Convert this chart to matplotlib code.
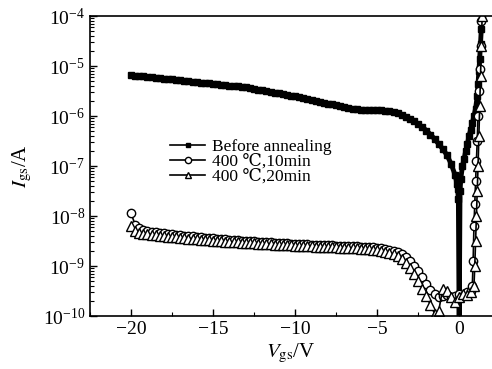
import numpy as np
import matplotlib
matplotlib.use('Agg')
import matplotlib.pyplot as plt
from matplotlib.ticker import LogLocator, MultipleLocator, NullFormatter

plt.rcParams['font.family'] = ['Liberation Serif', 'DejaVu Serif']
plt.rcParams['mathtext.fontset'] = 'stix'

# gate sweep voltage (V), uniform part of the sweep
v_sweep = np.arange(-20, 0, 0.25)

# before annealing, log10(Igs)
before_log = [-5.18, -5.19, -5.19, -5.20, -5.21, -5.22, -5.23, -5.24, -5.25, -5.26,
              -5.26, -5.27, -5.28, -5.29, -5.30, -5.31, -5.32, -5.33, -5.33, -5.34,
              -5.35, -5.36, -5.37, -5.38, -5.39, -5.40, -5.40, -5.41, -5.42, -5.44,
              -5.45, -5.47, -5.48, -5.50, -5.51, -5.53, -5.54, -5.56, -5.57, -5.59,
              -5.60, -5.62, -5.64, -5.66, -5.67, -5.69, -5.71, -5.73, -5.75, -5.76,
              -5.78, -5.80, -5.82, -5.83, -5.85, -5.86, -5.87, -5.87, -5.87, -5.88,
              -5.88, -5.88, -5.89, -5.90, -5.92, -5.94, -5.97, -6.01, -6.05, -6.10,
              -6.16, -6.22, -6.29, -6.37, -6.46, -6.56, -6.66, -6.78, -6.95, -7.18]
before_tail_v = [-0.15, -0.1, -0.05, 0.0, 0.05, 0.1, 0.2, 0.3, 0.4, 0.5, 0.6, 0.7,
                 0.8, 0.9, 1.0, 1.1, 1.15, 1.2, 1.25, 1.3, 1.35, 1.4]
before_tail_log = [-7.35, -7.45, -7.65, -10.3, -7.5, -7.25, -7.0, -6.85, -6.7, -6.55,
                   -6.4, -6.27, -6.14, -6.0, -5.85, -5.6, -5.35, -5.1, -4.85, -4.55,
                   -4.25, -4.0]

# 400 C, 10 min
a10_log = [-7.94, -8.18, -8.24, -8.27, -8.29, -8.31, -8.32, -8.33, -8.34, -8.35,
           -8.36, -8.37, -8.38, -8.39, -8.40, -8.40, -8.41, -8.42, -8.43, -8.43,
           -8.44, -8.45, -8.45, -8.46, -8.47, -8.47, -8.48, -8.49, -8.49, -8.50,
           -8.50, -8.51, -8.51, -8.52, -8.52, -8.53, -8.53, -8.54, -8.54, -8.55,
           -8.55, -8.56, -8.56, -8.56, -8.57, -8.57, -8.57, -8.58, -8.58, -8.58,
           -8.59, -8.59, -8.59, -8.60, -8.60, -8.60, -8.61, -8.61, -8.62, -8.62,
           -8.63, -8.64, -8.65, -8.67, -8.69, -8.72, -8.76, -8.82, -8.90, -8.99,
           -9.10, -9.22, -9.35, -9.47, -9.56, -9.62, -9.60, -9.58, -9.62, -9.60]
a10_tail_v = [0.0, 0.25, 0.5, 0.7, 0.8, 0.85, 0.9, 0.95, 1.0, 1.05, 1.1, 1.15, 1.2,
              1.25, 1.3, 1.35]
a10_tail_log = [-9.55, -9.60, -9.52, -9.50, -9.40, -8.90, -8.20, -7.75, -7.30, -6.90,
                -6.50, -6.00, -5.50, -5.05, -4.60, -4.10]

# 400 C, 20 min
a20_log = [-8.20, -8.30, -8.33, -8.35, -8.36, -8.37, -8.38, -8.39, -8.40, -8.41,
           -8.42, -8.42, -8.43, -8.44, -8.45, -8.45, -8.46, -8.47, -8.47, -8.48,
           -8.49, -8.49, -8.50, -8.51, -8.51, -8.52, -8.52, -8.53, -8.53, -8.54,
           -8.54, -8.55, -8.55, -8.56, -8.56, -8.57, -8.57, -8.58, -8.58, -8.58,
           -8.59, -8.59, -8.60, -8.60, -8.60, -8.61, -8.61, -8.61, -8.62, -8.62,
           -8.62, -8.63, -8.63, -8.63, -8.64, -8.64, -8.65, -8.65, -8.66, -8.67,
           -8.68, -8.69, -8.71, -8.73, -8.76, -8.80, -8.86, -8.94, -9.04, -9.16,
           -9.30, -9.45, -9.60, -9.78, -9.95, -9.90, -9.45, -9.50, -9.62, -9.72]
a20_tail_v = [0.0, 0.25, 0.5, 0.75, 0.9, 0.95, 1.0, 1.05, 1.1, 1.15, 1.2, 1.25, 1.3,
              1.35, 1.4]
a20_tail_log = [-9.62, -9.55, -9.58, -9.52, -9.40, -9.00, -8.50, -8.00, -7.50, -7.00,
                -6.40, -5.80, -5.20, -4.60, -4.00]

labels = ['Before annealing', '400 \u2103,10min', '400 \u2103,20min']

fig = plt.figure(figsize=(4.92, 3.69), dpi=100)
ax = fig.add_axes([0.183, 0.1436, 0.817, 0.813])

v_b = np.concatenate([v_sweep, before_tail_v])
i_b = 10.0 ** np.concatenate([before_log, before_tail_log])
v_10 = np.concatenate([v_sweep, a10_tail_v])
i_10 = 10.0 ** np.concatenate([a10_log, a10_tail_log])
v_20 = np.concatenate([v_sweep, a20_tail_v])
i_20 = 10.0 ** np.concatenate([a20_log, a20_tail_log])

ax.plot(v_b, i_b, '-s', color='black', lw=3.5, ms=4.5, mfc='black', label=labels[0])
ax.plot(v_10, i_10, '-o', color='black', lw=1.2, ms=6, mfc='white', mew=1.0, label=labels[1])
ax.plot(v_20, i_20, '-^', color='black', lw=1.2, ms=6.5, mfc='white', mew=1.0, label=labels[2])

ax.set_yscale('log')
ax.set_ylim(1e-10, 1e-4)
ax.set_xlim(-22.5, 2.0)
ax.xaxis.set_major_locator(MultipleLocator(5))
ax.xaxis.set_minor_locator(MultipleLocator(2.5))
ax.yaxis.set_major_locator(LogLocator(base=10, numticks=10))
ax.yaxis.set_minor_locator(LogLocator(base=10, subs=np.arange(2, 10), numticks=10))
ax.yaxis.set_minor_formatter(NullFormatter())
ax.tick_params(which='both', direction='in', labelsize=14, top=False, right=False)
ax.tick_params(which='major', length=5, width=1)
ax.tick_params(which='minor', length=3, width=0.8)
ax.spines['right'].set_visible(False)
for s in ['left', 'bottom', 'top']:
    ax.spines[s].set_linewidth(1.2)

ax.set_xlabel('$V_{\\mathrm{gs}}$/V', fontsize=15, labelpad=3)
ax.set_ylabel('$I_{\\mathrm{gs}}$/A', fontsize=15, labelpad=6)

leg = ax.legend(loc='upper left', bbox_to_anchor=(0.2, 0.59), frameon=False, fontsize=12.5,
                borderpad=0, handlelength=2.0, handletextpad=0.4, labelspacing=-0.08,
                numpoints=1, borderaxespad=0, markerscale=0.75)
for h in leg.legend_handles:
    h.set_linewidth(1.2)

fig.savefig('out.png', dpi=100)
